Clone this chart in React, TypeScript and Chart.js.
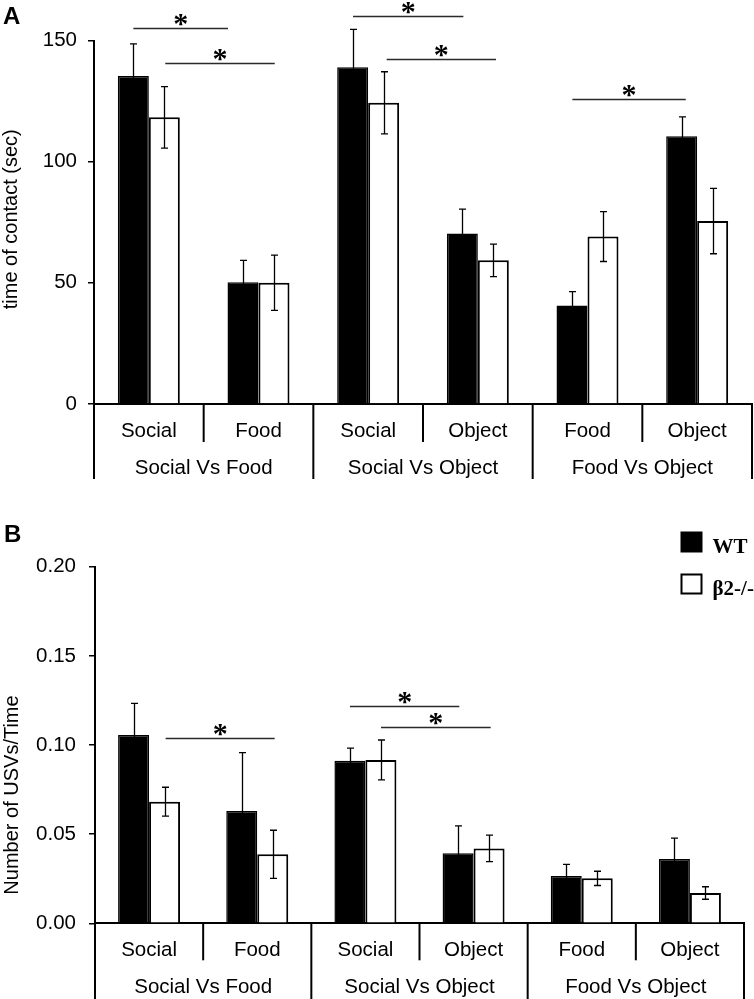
import React, { useEffect, useRef } from "react";
import { Chart, registerables } from "chart.js";

Chart.register(...registerables);

// ---------- data ----------
const categories = ["Social", "Food", "Social", "Object", "Food", "Object"];
const groups = ["Social Vs Food", "Social Vs Object", "Food Vs Object"];
const seriesNames = ["WT", "β2-/-"];

// Panel A: time of contact (sec)
const contactWT = [135.4, 50.2, 139.0, 70.4, 40.6, 110.5];
const contactWTErr = [13.2, 9.1, 15.6, 10.0, 5.8, 8.0];
const contactKO = [118.3, 50.0, 124.3, 59.3, 69.1, 75.5];
const contactKOErr = [12.7, 11.4, 12.8, 6.7, 10.3, 13.5];
const contactTicks = [0, 50, 100, 150];
// significance bars: [from (category units), to (category units), value]
const contactSig = [
  [-0.141, 0.722, 155.1],
  [0.15, 1.148, 140.6],
  [1.862, 2.868, 160.3],
  [2.169, 3.166, 142.5],
  [3.862, 4.896, 125.9],
];

// Panel B: Number of USVs/Time
const usvWT = [0.1056, 0.063, 0.0912, 0.0393, 0.0265, 0.0361];
const usvWTErr = [0.0178, 0.0327, 0.0071, 0.0153, 0.0066, 0.0117];
const usvKO = [0.0682, 0.0387, 0.0916, 0.042, 0.0252, 0.017];
const usvKOErr = [0.0081, 0.0135, 0.0112, 0.0074, 0.004, 0.0035];
const usvTicks = [0, 0.05, 0.1, 0.15, 0.2];
const usvSig = [
  [0.153, 1.161, 0.1038],
  [1.857, 2.868, 0.122],
  [2.144, 3.158, 0.1103],
];

const SANS = '"Liberation Sans", Arial, Helvetica, sans-serif';
const SERIF = '"Liberation Serif", "Times New Roman", serif';

// ---------- plugins ----------
const errorBarsPlugin = {
  id: "errorBars",
  afterDatasetsDraw(chart: any) {
    const { ctx } = chart;
    const y = chart.scales.y;
    ctx.save();
    ctx.strokeStyle = "#000";
    ctx.lineWidth = 1.3;
    chart.data.datasets.forEach((ds: any, di: number) => {
      const meta = chart.getDatasetMeta(di);
      meta.data.forEach((bar: any, j: number) => {
        const v = ds.data[j];
        const e = ds.errors[j];
        const top = y.getPixelForValue(v + e);
        const bot = y.getPixelForValue(v - e);
        const cx = Math.round(bar.x) + 0.5;
        ctx.beginPath();
        ctx.moveTo(cx, top);
        ctx.lineTo(cx, bot);
        ctx.moveTo(cx - 3.5, top);
        ctx.lineTo(cx + 3.5, top);
        ctx.moveTo(cx - 3.5, bot);
        ctx.lineTo(cx + 3.5, bot);
        ctx.stroke();
      });
    });
    ctx.restore();
  },
};

function makeAxisDecor(cfg: {
  innerLen: number;
  groupLen: number;
  catBase: number;
  groupBase: number;
}) {
  return {
    id: "axisDecor",
    afterDraw(chart: any) {
      const { ctx, chartArea } = chart;
      const x = chart.scales.x;
      const n = categories.length;
      ctx.save();
      ctx.strokeStyle = "#000";
      ctx.lineWidth = 2;
      for (let i = 0; i <= n; i++) {
        const px = x.getPixelForValue(i - 0.5);
        const len = i % 2 === 0 ? cfg.groupLen : cfg.innerLen;
        ctx.beginPath();
        ctx.moveTo(px, chartArea.bottom);
        ctx.lineTo(px, chartArea.bottom + len);
        ctx.stroke();
      }
      ctx.fillStyle = "#000";
      ctx.font = `20.5px ${SANS}`;
      ctx.textAlign = "center";
      ctx.textBaseline = "alphabetic";
      categories.forEach((c, i) => {
        ctx.fillText(c, x.getPixelForValue(i), cfg.catBase);
      });
      groups.forEach((g, gi) => {
        ctx.fillText(g, x.getPixelForValue(gi * 2 + 0.5), cfg.groupBase);
      });
      ctx.restore();
    },
  };
}

function makeYTitle(text: string, cx: number, offset: number) {
  return {
    id: "yTitle",
    afterDraw(chart: any) {
      const { ctx, chartArea } = chart;
      const cy = (chartArea.top + chartArea.bottom) / 2 + offset;
      ctx.save();
      ctx.translate(cx, cy);
      ctx.rotate(-Math.PI / 2);
      ctx.fillStyle = "#000";
      ctx.font = `20px ${SANS}`;
      ctx.textAlign = "center";
      ctx.textBaseline = "middle";
      ctx.fillText(text, 0, 0);
      ctx.restore();
    },
  };
}

function makeSigPlugin(brackets: number[][]) {
  return {
    id: "sig",
    afterDraw(chart: any) {
      const { ctx } = chart;
      const x = chart.scales.x;
      const y = chart.scales.y;
      ctx.save();
      ctx.strokeStyle = "#2a2a2a";
      ctx.lineWidth = 1.3;
      ctx.fillStyle = "#000";
      ctx.font = `bold 30px ${SERIF}`;
      ctx.textAlign = "center";
      ctx.textBaseline = "alphabetic";
      brackets.forEach(([a, b, v]) => {
        const x1 = x.getPixelForValue(a);
        const x2 = x.getPixelForValue(b);
        const py = Math.round(y.getPixelForValue(v)) + 0.5;
        ctx.beginPath();
        ctx.moveTo(x1, py);
        ctx.lineTo(x2, py);
        ctx.stroke();
        ctx.fillText("*", (x1 + x2) / 2, py + 4);
      });
      ctx.restore();
    },
  };
}

function makePanelLetter(letter: string, px: number, base: number) {
  return {
    id: "panelLetter",
    afterDraw(chart: any) {
      const { ctx } = chart;
      ctx.save();
      ctx.fillStyle = "#000";
      ctx.font = `bold 24px ${SANS}`;
      ctx.textAlign = "left";
      ctx.textBaseline = "alphabetic";
      ctx.fillText(letter, px, base);
      ctx.restore();
    },
  };
}

const legendPlugin = {
  id: "customLegend",
  afterDraw(chart: any) {
    const { ctx } = chart;
    ctx.save();
    const sx = 681.5;
    const rows = [33.5, 75.5];
    chart.data.datasets.forEach((ds: any, i: number) => {
      const top = rows[i];
      ctx.fillStyle = ds.backgroundColor;
      ctx.fillRect(sx, top, 20, 19);
      ctx.strokeStyle = "#000";
      ctx.lineWidth = 2;
      ctx.strokeRect(sx, top, 20, 19);
      ctx.fillStyle = "#000";
      ctx.font = `bold 21px ${SERIF}`;
      ctx.textAlign = "left";
      ctx.textBaseline = "alphabetic";
      ctx.fillText(ds.label, 712.5, top + 20);
    });
    ctx.restore();
  },
};

// ---------- chart builder ----------
function buildConfig(o: {
  wt: number[];
  wtErr: number[];
  ko: number[];
  koErr: number[];
  ticks: number[];
  max: number;
  decimals: number;
  padTop: number;
  padRight: number;
  yWidth: number;
  xHeight: number;
  tickPad: number;
  catPct: number;
  plugins: any[];
}) {
  return {
    type: "bar",
    data: {
      labels: categories,
      datasets: [
        {
          label: seriesNames[0],
          data: o.wt,
          errors: o.wtErr,
          backgroundColor: "#000",
          borderColor: "#000",
          borderWidth: 1.5,
        },
        {
          label: seriesNames[1],
          data: o.ko,
          errors: o.koErr,
          backgroundColor: "#fff",
          borderColor: "#000",
          borderWidth: 2,
        },
      ],
    },
    options: {
      responsive: false,
      animation: false,
      layout: { padding: { top: o.padTop, right: o.padRight, left: 0, bottom: 0 } },
      datasets: { bar: { categoryPercentage: o.catPct, barPercentage: 1 } },
      plugins: { legend: { display: false }, tooltip: { enabled: false } },
      scales: {
        x: {
          type: "category",
          offset: true,
          grid: { display: false },
          border: { display: true, color: "#000", width: 2 },
          ticks: { display: false },
          afterFit: (s: any) => {
            s.height = o.xHeight;
          },
        },
        y: {
          min: 0,
          max: o.max,
          afterBuildTicks: (s: any) => {
            s.ticks = o.ticks.map((v) => ({ value: v }));
          },
          grid: {
            drawOnChartArea: false,
            drawTicks: true,
            tickLength: 6,
            color: "#000",
            lineWidth: 1.5,
          },
          border: { display: true, color: "#000", width: 2 },
          ticks: {
            padding: o.tickPad,
            color: "#000",
            font: { family: SANS, size: 20.5 },
            callback: (v: any) => Number(v).toFixed(o.decimals),
          },
          title: { display: false },
          afterFit: (s: any) => {
            s.width = o.yWidth;
          },
        },
      },
    },
    plugins: o.plugins,
  };
}

export default function App() {
  const refA = useRef<HTMLCanvasElement>(null);
  const refB = useRef<HTMLCanvasElement>(null);

  useEffect(() => {
    Chart.defaults.font.family = SANS;
    const a = new Chart(
      refA.current as any,
      buildConfig({
        wt: contactWT,
        wtErr: contactWTErr,
        ko: contactKO,
        koErr: contactKOErr,
        ticks: contactTicks,
        max: 150,
        decimals: 0,
        padTop: 40.5,
        padRight: 2,
        yWidth: 94,
        xHeight: 95,
        tickPad: 11,
        catPct: 0.565,
        plugins: [
          errorBarsPlugin,
          makeAxisDecor({ innerLen: 38, groupLen: 75, catBase: 437, groupBase: 474 }),
          makeSigPlugin(contactSig),
          makeYTitle("time of contact (sec)", 11, -3),
          makePanelLetter("A", 3, 23.5),
        ],
      }) as any
    );
    const b = new Chart(
      refB.current as any,
      buildConfig({
        wt: usvWT,
        wtErr: usvWTErr,
        ko: usvKO,
        koErr: usvKOErr,
        ticks: usvTicks,
        max: 0.2,
        decimals: 2,
        padTop: 67.7,
        padRight: 10,
        yWidth: 95,
        xHeight: 75.7,
        tickPad: 13,
        catPct: 0.573,
        plugins: [
          errorBarsPlugin,
          makeAxisDecor({ innerLen: 37, groupLen: 80, catBase: 457, groupBase: 494 }),
          makeSigPlugin(usvSig),
          makeYTitle("Number of USVs/Time", 12, 50),
          makePanelLetter("B", 4, 42.5),
          legendPlugin,
        ],
      }) as any
    );
    return () => {
      a.destroy();
      b.destroy();
    };
  }, []);

  return (
    <div
      style={{
        position: "absolute",
        left: 0,
        top: 0,
        width: 754,
        height: 999,
        background: "#fff",
        overflow: "hidden",
      }}
    >
      <canvas
        ref={refA}
        width={754}
        height={499}
        style={{ position: "absolute", left: 0, top: 0, width: 754, height: 499 }}
      />
      <canvas
        ref={refB}
        width={754}
        height={500}
        style={{ position: "absolute", left: 0, top: 499, width: 754, height: 500 }}
      />
    </div>
  );
}
